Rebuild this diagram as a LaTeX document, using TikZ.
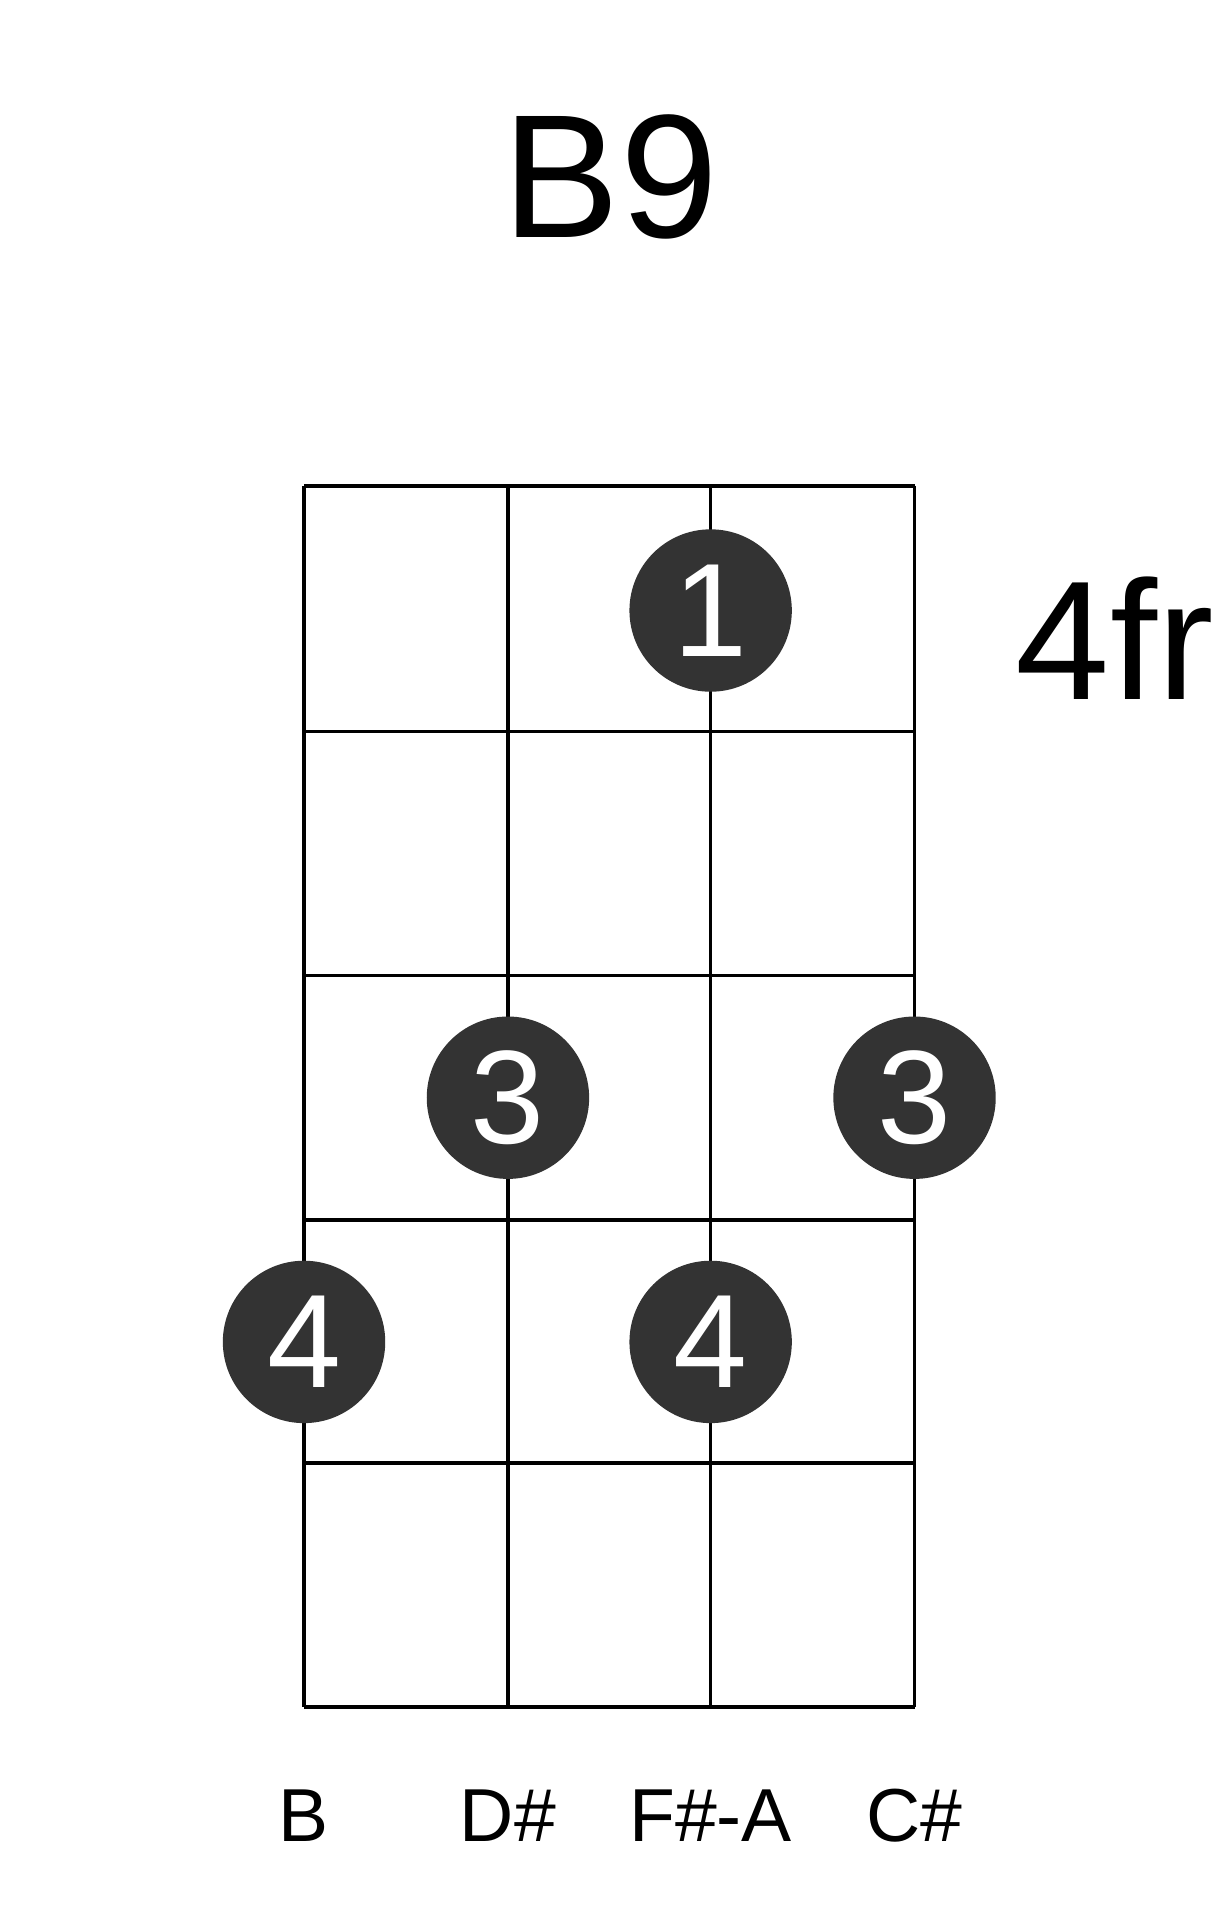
\documentclass[tikz,border=0pt]{standalone}
\usepackage{fontspec}
\setmainfont{Liberation Sans}
\begin{document}
\begin{tikzpicture}[x=0.02cm,y=-0.02cm,
  dot/.style={circle,fill=black!80,minimum size=133*0.02cm,inner sep=0pt,text=white,font=\fontsize{62}{62}\selectfont},
  lbl/.style={font=\fontsize{35}{35}\selectfont}]
\useasboundingbox (0,0) rectangle (1000,1570);
\foreach \x in {249,416,582,749} \draw[line width=1.7pt] (\x,398) -- (\x,1398);
\foreach \y in {398,599,799,999,1198,1398} \draw[line width=1.7pt] (249,\y) -- (749,\y);
\node[font=\fontsize{82}{82}\selectfont] (title) at (500,145) {B9};
\node[font=\fontsize{79}{79}\selectfont] (fr) at (913,523) {4fr};
\node[dot] (d1) at (582,500) {1};
\node[dot] (d2) at (416,899) {3};
\node[dot] (d3) at (749,899) {3};
\node[dot] (d4) at (249,1099) {4};
\node[dot] (d5) at (582,1099) {4};
\node[lbl] (s1) at (249,1487) {B};
\node[lbl] (s2) at (416,1487) {D\#};
\node[lbl] (s3) at (582,1487) {F\#-A};
\node[lbl] (s4) at (749,1487) {C\#};
\end{tikzpicture}
\end{document}
